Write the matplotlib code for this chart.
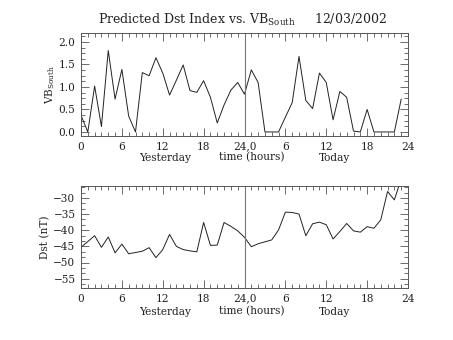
import numpy as np
import matplotlib
matplotlib.use("Agg")
import matplotlib.pyplot as plt
from matplotlib.ticker import MultipleLocator

hours = list(range(48))
vb_south = [0.37, 0.0, 1.02, 0.12, 1.81, 0.73, 1.39, 0.35, 0.0, 1.32, 1.25, 1.65,
            1.31, 0.82, 1.15, 1.49, 0.92, 0.88, 1.14, 0.77, 0.2, 0.6, 0.93, 1.1,
            0.84, 1.38, 1.1, 0.0, 0.0, 0.0, 0.33, 0.65, 1.68, 0.7, 0.52, 1.31,
            1.1, 0.27, 0.9, 0.77, 0.02, 0.0, 0.5, 0.0, 0.0, 0.0, 0.0, 0.73]
dst = [-45.3, -43.5, -41.7, -45.3, -42.1, -47.0, -44.3, -47.3, -46.9, -46.5, -45.4, -48.5,
       -46.0, -41.3, -45.0, -46.0, -46.4, -46.7, -37.6, -44.7, -44.6, -37.6, -38.8, -40.2,
       -42.2, -45.1, -44.2, -43.6, -43.0, -39.9, -34.4, -34.5, -35.0, -41.7, -38.0, -37.5,
       -38.3, -42.7, -40.4, -37.9, -40.2, -40.6, -38.9, -39.4, -36.8, -28.0, -30.6, -24.0]
xtick_pos = [0, 6, 12, 18, 24, 30, 36, 42, 48]
xtick_labels = ["0", "6", "12", "18", "24,0", "6", "12", "18", "24"]

plt.rcParams['font.family'] = ['DejaVu Serif']
W, H = 453, 340
fig = plt.figure(figsize=(W/100, H/100), dpi=100)

axc = '#555555'
txt = '#222222'
fs = 7.6

def style(ax, ylim, ymajor, yminor, ylab_y):
    ax.set_xlim(0, 48)
    ax.set_ylim(*ylim)
    ax.set_xticks(xtick_pos)
    ax.set_xticklabels(xtick_labels)
    ax.xaxis.set_minor_locator(MultipleLocator(1))
    ax.yaxis.set_major_locator(MultipleLocator(ymajor))
    ax.yaxis.set_minor_locator(MultipleLocator(yminor))
    ax.tick_params(which='both', direction='in', top=True, right=True,
                   color=axc, labelsize=fs, labelcolor=txt, width=0.6)
    ax.tick_params(which='major', length=6, pad=4)
    ax.tick_params(which='minor', length=3)
    for s in ax.spines.values():
        s.set_color(axc)
        s.set_linewidth(0.7)
    ax.axvline(24, color='#777777', lw=0.8)
    tr = ax.get_xaxis_transform()
    ax.text(12.3, ylab_y, "Yesterday", transform=tr,
            ha='center', va='baseline', fontsize=fs, color=txt)
    ax.text(25, ylab_y, "time (hours)", transform=tr,
            ha='center', va='baseline', fontsize=fs, color=txt)
    ax.text(37.2, ylab_y, "Today", transform=tr,
            ha='center', va='baseline', fontsize=fs, color=txt)

ax1 = fig.add_axes([81/W, 1-136/H, 327/W, 103/H])
ax1.plot(hours, vb_south, color='#222222', lw=0.7)
style(ax1, (-0.09, 2.2), 0.5, 0.125, -0.24)
ax1.yaxis.set_major_formatter(matplotlib.ticker.FormatStrFormatter('%.1f'))
ax1.set_ylabel(r"VB$_{\mathregular{South}}$", fontsize=fs, color=txt)
ax1.yaxis.set_label_coords(-0.074, 0.5)
fig.text(242/W, 1-20/H, r"Predicted Dst Index vs. VB$_{\mathregular{South}}$     12/03/2002",
         ha='center', va='center', fontsize=9, color=txt)

ax2 = fig.add_axes([81/W, 1-288/H, 327/W, 102/H])
ax2.plot(hours, dst, color='#222222', lw=0.7)
style(ax2, (-57.9, -26.3), 5, 5/3, -0.26)
ax2.set_yticks([-55, -50, -45, -40, -35, -30])
ax2.set_ylabel("Dst (nT)", fontsize=fs, color=txt)
ax2.yaxis.set_label_coords(-0.095, 0.5)

fig.savefig("out.png", dpi=100)
